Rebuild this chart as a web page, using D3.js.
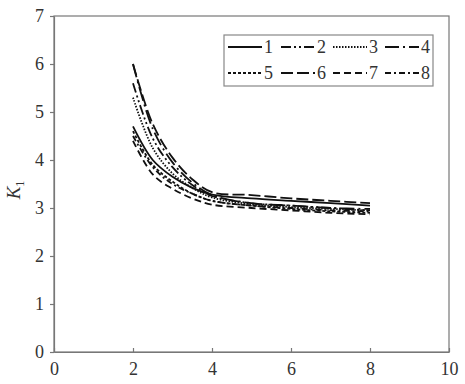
<!DOCTYPE html>
<html>
<head>
<meta charset="utf-8">
<script src="https://cdn.jsdelivr.net/npm/d3@7"></script>
<style>
  body { margin: 0; background: #fff; }
  svg text { font-family: "Liberation Serif", "Times New Roman", Times, serif; fill: #333; }
</style>
</head>
<body>
<script>
(() => {
    var xs = [2, 2.5, 3, 3.5, 4, 5, 6, 7, 8];
    var names = ["1", "2", "3", "4", "5", "6", "7", "8"];
    var s1 = [4.7, 4.0, 3.65, 3.42, 3.28, 3.2, 3.15, 3.1, 3.05];
    var s2 = [5.6, 4.45, 3.85, 3.48, 3.25, 3.1, 3.05, 3.0, 2.95];
    var s3 = [5.3, 4.25, 3.72, 3.42, 3.22, 3.08, 3.02, 2.98, 2.95];
    var s4 = [6.0, 4.65, 3.95, 3.53, 3.27, 3.1, 3.05, 3.0, 2.98];
    var s5 = [4.6, 3.9, 3.55, 3.3, 3.15, 3.05, 2.98, 2.93, 2.9];
    var s6 = [6.0, 4.75, 4.05, 3.6, 3.33, 3.27, 3.2, 3.15, 3.1];
    var s7 = [4.4, 3.7, 3.4, 3.2, 3.07, 3.0, 2.95, 2.9, 2.87];
    var s8 = [4.5, 3.85, 3.5, 3.3, 3.15, 3.05, 3.0, 2.95, 2.93];
    var xTicks = [0, 2, 4, 6, 8, 10];
    var yTicks = [0, 1, 2, 3, 4, 5, 6, 7];

    var series = [s1, s2, s3, s4, s5, s6, s7, s8];
    var dashes = ["none", "10,3,2,3,2,3", "1.5,1.5", "14,4,2,4", "3,2", "12,4", "7,4", "6,3,2,3"];

    var W = 465, H = 384;
    var margin = { top: 16, bottom: 32, left: 54, right: 16 };
    var w = W - margin.left - margin.right,
        h = H - margin.top - margin.bottom;
    var serif = "'Liberation Serif', 'Times New Roman', Times, serif";

    var svg = d3.select("body").append("svg").attr("width", W).attr("height", H)
        .attr("font-family", serif);
    var graph = svg.append("g").attr("transform", "translate(" + [margin.left, margin.top] + ")");

    var x = d3.scaleLinear().domain([0, 10]).range([0, w]);
    var y = d3.scaleLinear().domain([0, 7]).range([h, 0]);

    // frame
    graph.append("rect").attr("width", w).attr("height", h)
        .attr("fill", "none").attr("stroke", "#777").attr("stroke-width", 1.2);

    var xAxis = graph.append("g").attr("transform", "translate(0," + h + ")")
        .call(d3.axisBottom(x).tickValues(xTicks).tickFormat(d3.format("d"))
            .tickSizeInner(-4).tickSizeOuter(0).tickPadding(10));
    var yAxis = graph.append("g")
        .call(d3.axisLeft(y).tickValues(yTicks).tickFormat(d3.format("d"))
            .tickSizeInner(4).tickSizeOuter(0).tickPadding(6));
    [xAxis, yAxis].forEach(a => {
        a.attr("font-family", serif).attr("font-size", 18);
        a.select(".domain").attr("stroke", "#777").attr("stroke-width", 1.2);
        a.selectAll(".tick line").attr("stroke", "#777").attr("stroke-width", 1.2);
        a.selectAll("text").attr("fill", "#333");
    });

    // y label
    var yl = svg.append("text").attr("transform", "translate(20,190) rotate(-90)")
        .attr("text-anchor", "middle").attr("font-size", 19);
    yl.append("tspan").attr("font-style", "italic").text("K");
    yl.append("tspan").attr("font-size", 12).attr("dy", 4).text("1");

    var line = d3.line()
        .x((d, i) => x(xs[i]))
        .y(d => y(d))
        .curve(d3.curveCatmullRom.alpha(0.5));

    graph.selectAll(".series").data(series).enter()
        .append("path").attr("class", "series")
        .attr("d", d => line(d))
        .attr("fill", "none").attr("stroke", "#111").attr("stroke-width", 1.8)
        .attr("stroke-dasharray", (d, i) => dashes[i]);

    // legend
    var lg = svg.append("g");
    lg.append("rect").attr("x", 224).attr("y", 35).attr("width", 209).attr("height", 51)
        .attr("fill", "#fff").attr("stroke", "#888").attr("stroke-width", 1.2);
    var colX = [228, 281, 333, 385];
    var rowY = [47, 73];
    names.forEach((n, i) => {
        var cx = colX[i % 4], cy = rowY[Math.floor(i / 4)];
        lg.append("line").attr("x1", cx).attr("x2", cx + 34).attr("y1", cy).attr("y2", cy)
            .attr("stroke", "#111").attr("stroke-width", 2).attr("stroke-dasharray", dashes[i]);
        lg.append("text").attr("x", cx + 36).attr("y", cy + 6).attr("font-size", 18).text(n);
    });
})()
</script>
</body>
</html>
